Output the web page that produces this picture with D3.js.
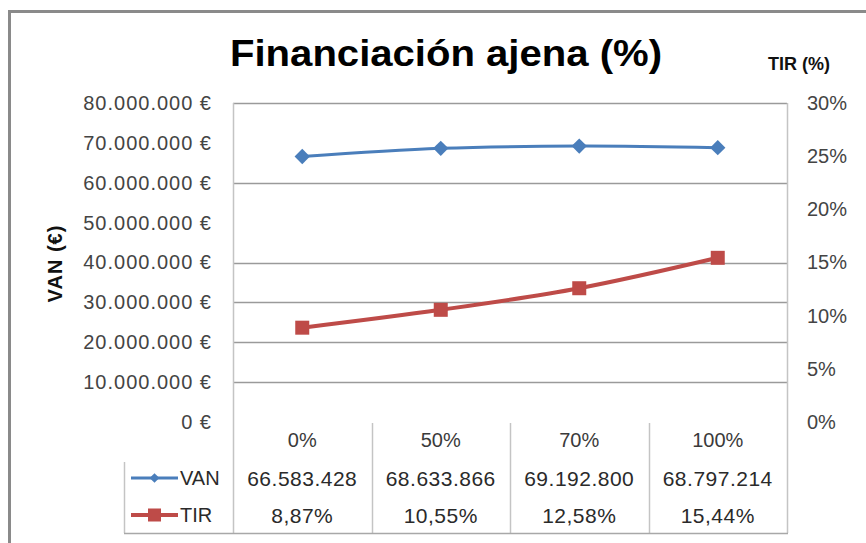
<!DOCTYPE html>
<html>
<head>
<meta charset="utf-8">
<script src="https://cdn.jsdelivr.net/npm/d3@7"></script>
<style>
  html, body { margin: 0; padding: 0; background: #fff; }
  svg { display: block; font-family: "Liberation Sans", Arial, sans-serif; }
</style>
</head>
<body>
<svg id="chart" width="866" height="543"></svg>
<script>
// Financing share scenarios and their results
const categories = ["0%", "50%", "70%", "100%"];
const vanValues = [66583428, 68633866, 69192800, 68797214];
const tirValues = [0.0887, 0.1055, 0.1258, 0.1544];

// Axis ticks
const vanTicks = [0, 10e6, 20e6, 30e6, 40e6, 50e6, 60e6, 70e6, 80e6];
const tirTicks = [0, 0.05, 0.10, 0.15, 0.20, 0.25, 0.30];
const gridValues = [10e6, 20e6, 30e6, 40e6, 60e6, 80e6];

const seriesNames = ["VAN", "TIR"];

const es = d3.formatLocale({ decimal: ",", thousands: ".", grouping: [3], currency: ["", " €"] });
const fmtEuro = es.format("$,.0f");
const fmtInt = es.format(",.0f");
const fmtPct0 = es.format(".0%");
const fmtPct2 = es.format(".2%");

const svg = d3.select("#chart");

const plot = { left: 233, right: 787, top: 103, bottom: 422 };
const tableBottom = 533;
const legendLeft = 124;

const x = d3.scaleBand().domain(categories).range([plot.left, plot.right]).padding(0);
const yVan = d3.scaleLinear().domain([0, 80e6]).range([plot.bottom, plot.top]);
const yTir = d3.scaleLinear().domain([0, 0.30]).range([plot.bottom, plot.top]);

const blue = "#4a7ebb", red = "#be4b48";

// Outer chart frame (left and top edges)
svg.append("path")
  .attr("d", `M9.5,545 V11.5 H870`)
  .attr("fill", "none").attr("stroke", "#8a8a8a").attr("stroke-width", 3);

// Title
svg.append("text")
  .attr("x", 446).attr("y", 66)
  .attr("text-anchor", "middle")
  .attr("font-size", 36).attr("font-weight", "bold")
  .attr("textLength", 432).attr("lengthAdjust", "spacingAndGlyphs")
  .attr("fill", "#000")
  .text("Financiación ajena (%)");

// Right axis title
svg.append("text")
  .attr("x", 768).attr("y", 70)
  .attr("font-size", 18).attr("font-weight", "bold")
  .attr("fill", "#111")
  .text("TIR (%)");

// Left axis title
svg.append("text")
  .attr("transform", `translate(55,${(plot.top + plot.bottom) / 2 + 1}) rotate(-90)`)
  .attr("text-anchor", "middle").attr("dominant-baseline", "central")
  .attr("font-size", 20).attr("font-weight", "bold")
  .attr("letter-spacing", 1)
  .attr("fill", "#111")
  .text("VAN (€)");

// Horizontal gridlines
svg.append("g").selectAll("line").data(gridValues).join("line")
  .attr("x1", plot.left).attr("x2", plot.right)
  .attr("y1", d => Math.round(yVan(d)) + 0.5).attr("y2", d => Math.round(yVan(d)) + 0.5)
  .attr("stroke", "#9a9a9a").attr("stroke-width", 1.5);

// Left axis
const axL = svg.append("g").attr("transform", `translate(${plot.left},0)`)
  .call(d3.axisLeft(yVan).tickValues(vanTicks).tickFormat(fmtEuro).tickSize(0).tickPadding(21));
axL.select(".domain").remove();
axL.selectAll("text").attr("font-size", 20).attr("fill", "#444")
  .attr("letter-spacing", 1)
  .attr("font-family", "'Liberation Sans', Arial, sans-serif");

// Right axis
const axR = svg.append("g").attr("transform", `translate(${plot.right},0)`)
  .call(d3.axisRight(yTir).tickValues(tirTicks).tickFormat(fmtPct0).tickSize(0).tickPadding(20));
axR.select(".domain").remove();
axR.selectAll("text").attr("font-size", 20).attr("fill", "#444")
  .attr("font-family", "'Liberation Sans', Arial, sans-serif");

// Plot side borders and data table grid
const tableLines = svg.append("g").attr("stroke", "#c4c4c4").attr("stroke-width", 1.5).attr("fill", "none");
tableLines.append("line").attr("x1", plot.left + 0.5).attr("x2", plot.left + 0.5)
  .attr("y1", plot.top).attr("y2", tableBottom);
tableLines.append("line").attr("x1", plot.right + 0.5).attr("x2", plot.right + 0.5)
  .attr("y1", plot.top).attr("y2", tableBottom);
tableLines.selectAll("line.div").data(categories.slice(1)).join("line").attr("class", "div")
  .attr("x1", d => Math.round(x(d)) + 0.5).attr("x2", d => Math.round(x(d)) + 0.5)
  .attr("y1", plot.bottom + 1).attr("y2", tableBottom);
tableLines.append("line").attr("x1", legendLeft + 0.5).attr("x2", legendLeft + 0.5)
  .attr("y1", 462).attr("y2", tableBottom);
tableLines.append("line").attr("x1", legendLeft).attr("x2", plot.right + 1)
  .attr("y1", tableBottom + 0.5).attr("y2", tableBottom + 0.5)
  .attr("stroke", "#a8a8a8");

// Series lines
const cx = d => x(d) + x.bandwidth() / 2;
const lineVan = d3.line().x((d, i) => cx(categories[i])).y(d => yVan(d)).curve(d3.curveCatmullRom);
const lineTir = d3.line().x((d, i) => cx(categories[i])).y(d => yTir(d)).curve(d3.curveCatmullRom);

svg.append("path").datum(vanValues).attr("d", lineVan)
  .attr("fill", "none").attr("stroke", blue).attr("stroke-width", 3);
svg.append("path").datum(tirValues).attr("d", lineTir)
  .attr("fill", "none").attr("stroke", red).attr("stroke-width", 4);

// Markers
const diamond = d3.symbol().type(d3.symbolDiamond2).size(150);
svg.append("g").selectAll("path").data(vanValues).join("path")
  .attr("transform", (d, i) => `translate(${cx(categories[i])},${yVan(d)})`)
  .attr("d", diamond).attr("fill", blue);
const sq = 14;
svg.append("g").selectAll("rect").data(tirValues).join("rect")
  .attr("x", (d, i) => cx(categories[i]) - sq / 2).attr("y", d => yTir(d) - sq / 2)
  .attr("width", sq).attr("height", sq).attr("fill", red);

// Data table: category header row
svg.append("g").selectAll("text").data(categories).join("text")
  .attr("x", d => cx(d)).attr("y", 440)
  .attr("text-anchor", "middle").attr("dominant-baseline", "central")
  .attr("font-size", 20).attr("fill", "#3a3a3a")
  .text(d => d);

// Data table: value rows
const rows = [
  { name: seriesNames[0], values: vanValues, fmt: fmtInt, y: 478, color: blue },
  { name: seriesNames[1], values: tirValues, fmt: fmtPct2, y: 515, color: red }
];
rows.forEach(r => {
  svg.append("g").selectAll("text").data(r.values).join("text")
    .attr("x", (d, i) => cx(categories[i])).attr("y", r.y)
    .attr("text-anchor", "middle").attr("dominant-baseline", "central")
    .attr("font-size", 21).attr("fill", "#2a2a2a")
    .attr("letter-spacing", 0.5)
    .text(d => r.fmt(d));

  // Legend key
  const g = svg.append("g");
  g.append("line").attr("x1", 131).attr("x2", 178).attr("y1", r.y).attr("y2", r.y)
    .attr("stroke", r.color).attr("stroke-width", r.name === "VAN" ? 3 : 4);
  if (r.name === "VAN") {
    g.append("path").attr("transform", `translate(154.5,${r.y})`)
      .attr("d", d3.symbol().type(d3.symbolDiamond2).size(60)).attr("fill", r.color);
  } else {
    g.append("rect").attr("x", 148).attr("y", r.y - 6.5).attr("width", 13).attr("height", 13)
      .attr("fill", r.color);
  }
  g.append("text").attr("x", 180).attr("y", r.y)
    .attr("dominant-baseline", "central")
    .attr("font-size", 20).attr("fill", "#2a2a2a")
    .text(r.name);
});
</script>
</body>
</html>
